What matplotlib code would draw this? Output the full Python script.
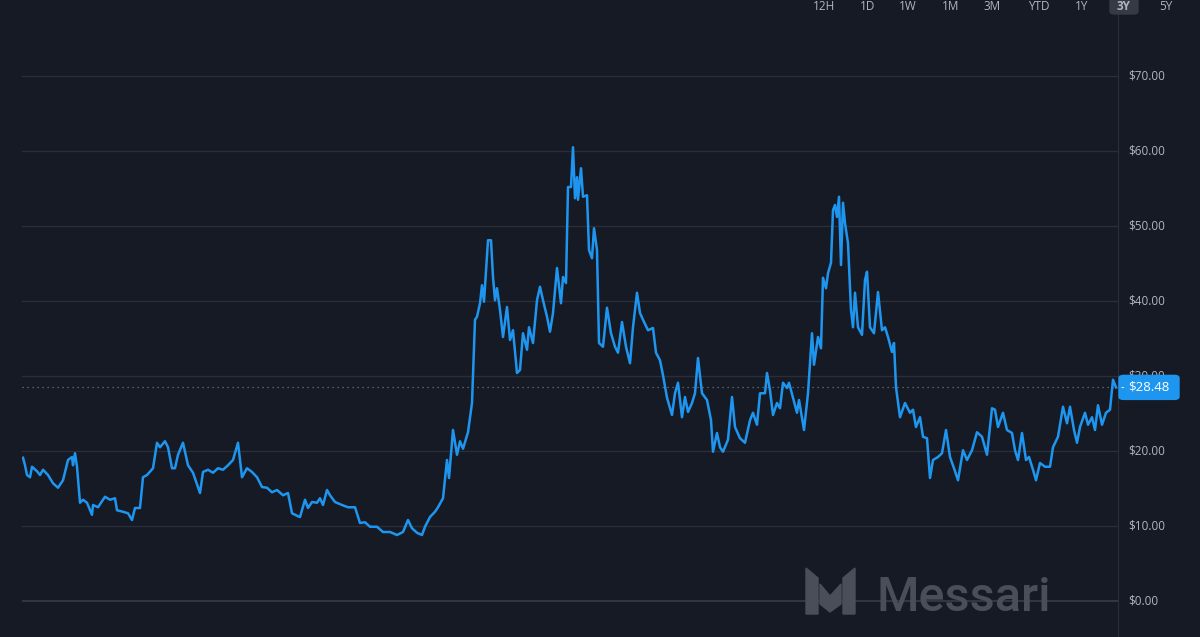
import matplotlib.pyplot as plt
from matplotlib.patches import FancyBboxPatch, Polygon

# 3Y daily price (day index, USD)
days = [1, 3, 5, 8, 10, 15, 18, 21, 26, 31, 36, 41, 46, 50, 51, 53, 55, 58, 61, 65,
        70, 71, 76, 83, 88, 93, 95, 101, 106, 110, 113, 118, 121, 125, 131, 135, 138, 143, 146, 150,
        153, 156, 161, 163, 166, 171, 176, 178, 181, 186, 191, 196, 201, 206, 211, 216, 220, 225, 230, 235,
        240, 245, 250, 255, 261, 266, 270, 276, 278, 283, 286, 290, 295, 298, 301, 305, 308, 313, 320, 326,
        333, 338, 343, 348, 355, 361, 368, 375, 381, 386, 390, 395, 400, 403, 408, 413, 416, 421, 425, 427,
        431, 435, 438, 441, 446, 450, 453, 455, 458, 460, 462, 465, 466, 469, 471, 473, 475, 478, 481, 485,
        488, 491, 495, 498, 501, 505, 507, 511, 515, 518, 521, 525, 528, 531, 535, 539, 541, 544, 546, 549,
        551, 553, 555, 556, 559, 561, 565, 567, 570, 572, 575, 577, 581, 585, 589, 593, 596, 600, 604, 608,
        611, 615, 618, 621, 626, 631, 634, 638, 641, 645, 650, 653, 656, 660, 663, 666, 670, 673, 676, 680,
        685, 689, 691, 695, 698, 701, 706, 710, 713, 718, 723, 728, 731, 735, 738, 743, 745, 748, 751, 755,
        758, 761, 765, 767, 771, 775, 777, 782, 786, 790, 792, 796, 799, 801, 804, 806, 809, 811, 813, 815,
        817, 819, 821, 823, 826, 829, 831, 833, 836, 840, 843, 845, 848, 852, 856, 860, 863, 866, 870, 872,
        874, 878, 883, 888, 891, 894, 898, 901, 905, 908, 911, 916, 920, 924, 928, 932, 936, 941, 945, 950,
        955, 960, 965, 970, 973, 976, 981, 985, 990, 993, 996, 1000, 1004, 1007, 1011, 1014, 1018, 1023, 1028, 1031,
        1036, 1041, 1045, 1048, 1052, 1055, 1058, 1063, 1066, 1070, 1073, 1076, 1080, 1084, 1088, 1091, 1094]
prices = [19.1, 18.1, 16.8, 16.5, 17.9, 17.3, 16.8, 17.5, 16.8, 15.7, 15.1, 16.1, 18.8, 19.2, 18.1, 19.7, 17.9, 13.1, 13.5, 13.1,
          11.5, 12.8, 12.5, 13.9, 13.5, 13.7, 12.1, 11.9, 11.7, 10.8, 12.4, 12.4, 16.5, 16.8, 17.7, 21.1, 20.5, 21.3, 20.5, 17.7,
          17.7, 19.5, 21.1, 19.9, 18.1, 17.1, 15.2, 14.4, 17.2, 17.5, 17.1, 17.7, 17.5, 18.1, 18.8, 21.1, 16.5, 17.7, 17.2, 16.5,
          15.2, 15.1, 14.5, 14.8, 14.1, 14.4, 11.7, 11.3, 11.2, 13.5, 12.4, 13.2, 13.1, 13.7, 12.8, 14.8, 14.1, 13.2, 12.8, 12.5,
          12.5, 10.4, 10.5, 9.9, 9.9, 9.2, 9.2, 8.8, 9.2, 10.8, 9.7, 9.1, 8.8, 9.9, 11.2, 11.9, 12.5, 13.7, 18.8, 16.4,
          22.8, 19.5, 21.3, 20.3, 22.5, 26.4, 37.5, 37.9, 39.7, 42.1, 39.9, 45.9, 48.1, 48.1, 43.2, 40.1, 41.7, 38.8, 35.2, 39.2,
          34.8, 36.1, 30.4, 30.8, 35.7, 33.5, 36.5, 34.4, 40.1, 41.9, 40.1, 37.9, 35.9, 38.4, 44.4, 39.7, 43.2, 42.4, 55.2, 55.2,
          60.5, 53.7, 56.5, 53.5, 57.7, 53.9, 54.1, 46.8, 45.7, 49.7, 46.8, 34.4, 33.9, 39.1, 35.7, 33.9, 33.1, 37.2, 33.9, 31.7,
          36.5, 41.1, 38.4, 37.5, 36.1, 36.4, 33.1, 32.1, 30.1, 27.1, 24.8, 27.7, 29.1, 24.5, 27.2, 25.2, 26.4, 27.7, 32.4, 27.7,
          26.8, 24.1, 19.9, 22.4, 20.5, 19.9, 21.5, 27.2, 23.2, 21.7, 21.1, 24.1, 25.1, 23.5, 27.7, 27.7, 30.4, 28.1, 24.8, 26.4,
          25.7, 29.1, 28.4, 29.1, 27.1, 25.1, 26.8, 22.8, 27.7, 35.7, 31.5, 35.2, 33.7, 43.1, 41.7, 43.7, 45.1, 52.1, 52.8, 51.2,
          53.9, 44.8, 53.1, 50.4, 47.7, 38.8, 36.5, 41.1, 36.5, 35.5, 42.8, 43.9, 36.5, 35.7, 41.2, 36.1, 36.5, 35.2, 33.2, 34.4,
          28.5, 24.5, 26.4, 25.1, 25.5, 23.2, 24.5, 21.9, 21.7, 16.4, 18.8, 19.2, 19.7, 22.8, 19.2, 17.7, 16.1, 20.1, 18.8, 20.1,
          22.5, 21.9, 19.5, 25.7, 25.5, 23.2, 25.1, 22.8, 22.4, 20.1, 18.8, 22.4, 18.8, 19.2, 17.5, 16.1, 18.4, 17.9, 17.9, 20.5,
          21.9, 25.9, 23.7, 25.9, 22.8, 21.1, 23.2, 25.1, 23.5, 24.5, 22.8, 26.1, 23.5, 25.1, 25.5, 29.5, 28.48]

y_ticks = [0, 10, 20, 30, 40, 50, 60, 70]
ranges = ['12H', '1D', '1W', '1M', '3M', 'YTD', '1Y', '3Y', '5Y']
range_x = [824, 868, 908, 951, 992, 1039, 1082, 1124, 1166]
last_price = prices[-1]

bg = '#161a25'
grid_c = '#2a2e39'
text_c = '#b2b5be'
blue = '#1e96f0'

fig = plt.figure(figsize=(12, 6.37), dpi=100, facecolor=bg)
W, H = 1200, 637
ax = fig.add_axes([22 / W, 0, (1118 - 22) / W, 1])
ax.set_facecolor(bg)
ax.set_xlim(0, 1096)
ax.set_ylim((601 - 637) / 7.5, 601 / 7.5)
for s in ['top', 'left', 'bottom']:
    ax.spines[s].set_visible(False)
ax.spines['right'].set_color(grid_c)
ax.set_xticks([])
ax.set_yticks([])

for t in y_ticks:
    ax.axhline(t, color='#363a45' if t == 0 else grid_c, lw=1.3 if t == 0 else 1, zorder=1)
    fig.text(1128 / W, 1 - (601 - t * 7.5) / H, f'${t:.2f}', color=text_c,
             fontsize=8.5, va='center', ha='left', family='Open Sans')

# watermark
fig.text(877 / W, 1 - 611 / H, 'Messari', color='#4a4e59', fontsize=35,
         ha='left', va='baseline', family='Roboto', weight='medium', zorder=0)
logo = [[(806, 568), (818, 578), (818, 614), (806, 614)],
        [(855, 568), (843, 578), (843, 614), (855, 614)],
        [(820, 584), (830, 596), (841, 584), (841, 604), (830, 612), (820, 604)]]
for pts in logo:
    fig.patches.append(Polygon([(x / W, 1 - y / H) for x, y in pts], closed=True,
                               transform=fig.transFigure, color='#4a4e59', zorder=0))

ax.plot(days, prices, color=blue, lw=1.8, zorder=3, solid_joinstyle='round')
ax.axhline(last_price, color='#6f7480', lw=0.9, ls=(0, (1, 3)), zorder=2)

# last price tag
ty = 1 - (601 - last_price * 7.5) / H
fig.patches.append(FancyBboxPatch((1119 / W, ty - 12 / H), 60 / W, 24 / H,
                                  boxstyle='round,pad=0,rounding_size=0.004',
                                  transform=fig.transFigure, color=blue, zorder=5))
fig.text(1149 / W, ty, f'${last_price:.2f}', color='white', fontsize=9.5,
         ha='center', va='center', family='Open Sans', zorder=6)
fig.text(1121 / W, ty, '-', color='white', fontsize=7, ha='left', va='center', zorder=6)

# range buttons along the top edge
fig.patches.append(FancyBboxPatch((1110 / W, 1 - 14 / H), 28 / W, 18 / H,
                                  boxstyle='round,pad=0,rounding_size=0.004',
                                  transform=fig.transFigure, color='#363a45', zorder=1))
for lab, x in zip(ranges, range_x):
    fig.text(x / W, 1 - 6 / H, lab, color=text_c, fontsize=8.5, ha='center', va='center',
             family='Open Sans', weight='bold' if lab == '3Y' else 'normal', zorder=2)

fig.savefig('out.png', dpi=100, facecolor=bg)
